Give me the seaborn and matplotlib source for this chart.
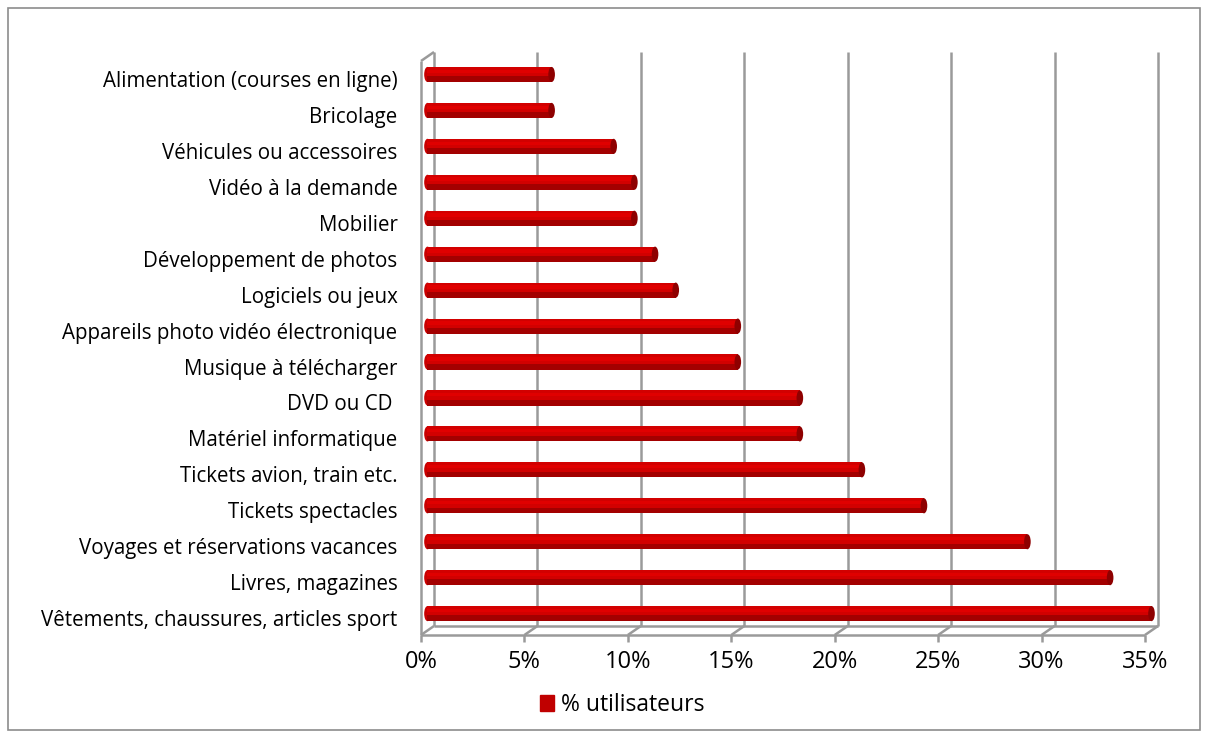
import matplotlib
matplotlib.use("Agg")
import matplotlib.pyplot as plt
import seaborn as sns
import pandas as pd
from matplotlib.lines import Line2D
from matplotlib.patches import Rectangle, Patch, Ellipse
from matplotlib.transforms import ScaledTranslation, IdentityTransform

categories = [
    "Alimentation (courses en ligne)",
    "Bricolage",
    "Véhicules ou accessoires",
    "Vidéo à la demande",
    "Mobilier",
    "Développement de photos",
    "Logiciels ou jeux",
    "Appareils photo vidéo électronique",
    "Musique à télécharger",
    "DVD ou CD ",
    "Matériel informatique",
    "Tickets avion, train etc.",
    "Tickets spectacles",
    "Voyages et réservations vacances",
    "Livres, magazines",
    "Vêtements, chaussures, articles sport",
]
values = [6, 6, 9, 10, 10, 11, 12, 15, 15, 18, 18, 21, 24, 29, 33, 35]
xticks = [0, 5, 10, 15, 20, 25, 30, 35]
xtick_labels = ["0%", "5%", "10%", "15%", "20%", "25%", "30%", "35%"]
series_name = "% utilisateurs"

sns.set_style("white")
plt.rcParams["font.family"] = ["Open Sans", "DejaVu Sans"]
plt.rcParams["text.color"] = "black"
plt.rcParams["xtick.color"] = "black"
plt.rcParams["ytick.color"] = "black"

W, H, DPI = 1208, 738, 100
fig = plt.figure(figsize=(W / DPI, H / DPI), dpi=DPI)

# chart border
fig.patches.append(Rectangle((8 / W, 8 / H), 1192 / W, 722 / H, transform=fig.transFigure,
                             fill=False, edgecolor="#8c8c8c", linewidth=1.2))

ax = fig.add_axes([421 / W, 1 - 635 / H, 724 / W, 574 / H])
ax.patch.set_visible(False)
df = pd.DataFrame({"cat": categories, "val": values})
bw = 0.42
sns.barplot(data=df, x="val", y="cat", orient="h", color="#D20000", width=bw,
            linewidth=0, saturation=1, ax=ax, zorder=3)

ax.set_xlim(0, 35)
ax.set_ylim(15.47, -0.50)
ax.set_xlabel("")
ax.set_ylabel("")
for s in ax.spines.values():
    s.set_visible(False)
ax.set_xticks(xticks)
ax.set_xticklabels(xtick_labels)
ax.tick_params(axis="x", length=0, pad=11, labelsize=17, labelcolor="black")
ax.tick_params(axis="y", length=0, pad=17, labelsize=14.8, labelcolor="black")

# bars sit at mid depth of the 3D box: shift them half the depth offset
dx, dy = 13, 9
mid = ScaledTranslation(dx / 2 / DPI, dy / 2 / DPI, fig.dpi_scale_trans)
for p in list(ax.patches):
    p.set_transform(ax.transData + mid)
    p.set_clip_on(False)
    x, y = p.get_x(), p.get_y()
    w, h = p.get_width(), p.get_height()
    shade = Rectangle((x, y + h * 0.62), w, h * 0.38, facecolor="#A30000",
                      linewidth=0, transform=ax.transData + mid, zorder=3.1)
    hl = Rectangle((x, y + h * 0.18), w, h * 0.22, facecolor="#E00000",
                   linewidth=0, transform=ax.transData + mid, zorder=3.1)
    cap = Ellipse((x + w, y + h / 2), 0.32, h, facecolor="#8E0000", linewidth=0,
                  transform=ax.transData + mid, zorder=3.2)
    start = Ellipse((x, y + h / 2), 0.32, h, facecolor="#C80000", linewidth=0,
                    transform=ax.transData + mid, zorder=2.9)
    for a in (shade, hl, cap, start):
        a.set_clip_on(False)
        ax.add_patch(a)

gray = "#9a9a9a"
lw = 1.8

def px(x, yfrac):
    return ax.get_xaxis_transform().transform((x, yfrac))

def line(p, q):
    fig.add_artist(Line2D([p[0], q[0]], [p[1], q[1]], transform=IdentityTransform(),
                          color=gray, linewidth=lw, zorder=0, solid_capstyle="butt"))

x0, y0 = px(0, 0)
x1, y1 = px(35, 1)
for t in xticks:
    bx, by = px(t, 0)
    line((bx + dx, by + dy), (bx + dx, y1 + dy))   # back wall gridline
    line((bx, by), (bx + dx, by + dy))              # floor diagonal
    line((bx, by), (bx, by - 7))                    # front tick mark
line((x0 + dx, y0 + dy), (x1 + dx, y0 + dy))       # back floor line
line((x0, y0), (x1, y0))                            # front floor line
line((x0, y0), (x0, y1))                            # left wall front edge
line((x0, y1), (x0 + dx, y1 + dy))                  # left wall top

fig.legend(handles=[Patch(facecolor="#C00000", edgecolor="#C00000", label=series_name)],
           loc="center", bbox_to_anchor=(622 / W, 1 - 705 / H), frameon=False,
           fontsize=16.5, handlelength=0.6, handleheight=0.7, handletextpad=0.3)

fig.savefig("out.png", dpi=DPI)
